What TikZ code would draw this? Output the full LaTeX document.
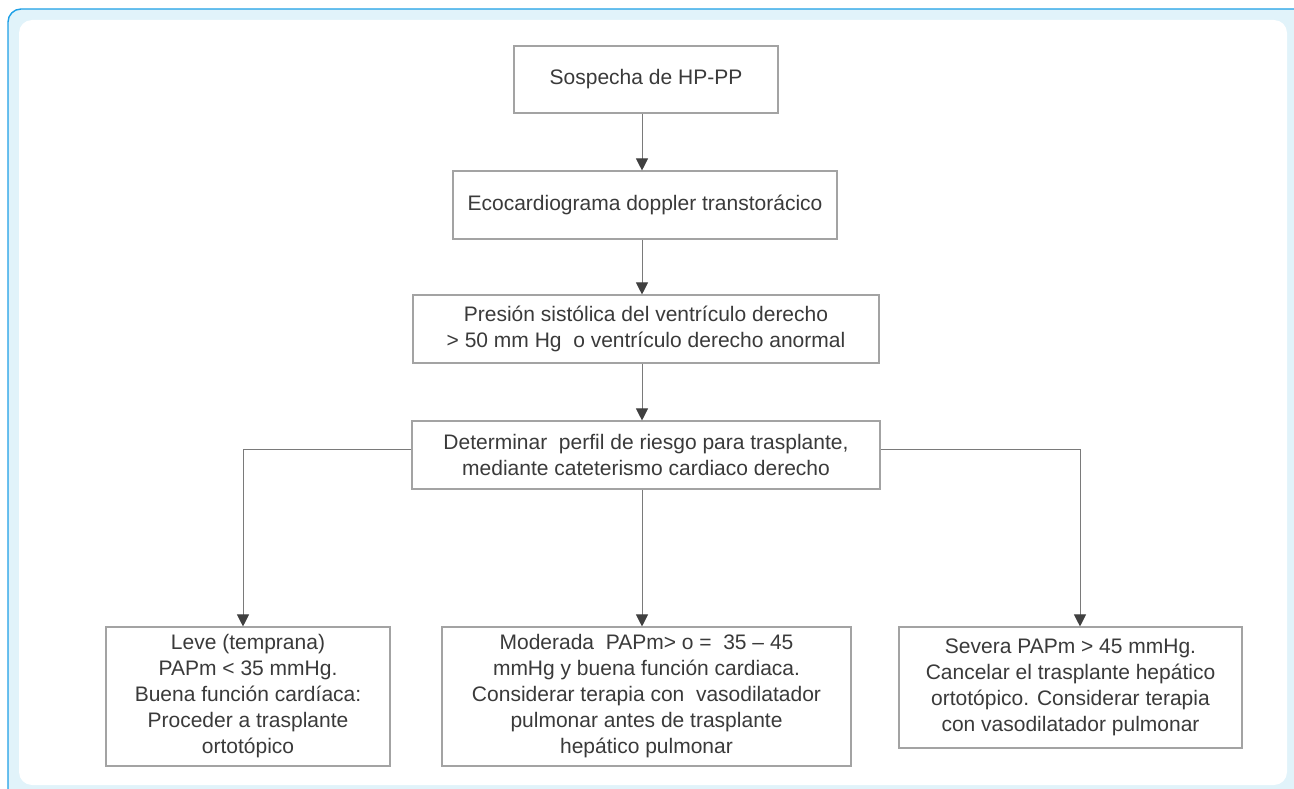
\documentclass[tikz,border=0pt]{standalone}
\usepackage{fontspec}
\setmainfont{Liberation Sans}
\usetikzlibrary{arrows.meta}
\definecolor{framefill}{HTML}{E1F3FA}
\definecolor{frameline}{HTML}{1EA0E6}
\definecolor{boxline}{HTML}{A3A3A3}
\definecolor{linegray}{HTML}{7A7A7A}
\definecolor{tipgray}{HTML}{404040}
\definecolor{txtgray}{HTML}{3A3A3A}
\tikzset{
  flowbox/.style={draw=boxline, line width=1.1pt, fill=white, inner sep=0pt,
    align=center, text=txtgray, font=\fontsize{21}{26}\selectfont},
  conn/.style={draw=linegray, line width=1pt},
  arr/.style={conn, -{Triangle[length=12pt,width=12pt,color=tipgray]}},
}
\begin{document}
\begin{tikzpicture}[x=1pt,y=-1pt]
  \useasboundingbox (0,0) rectangle (1294,789);
  % panel background
  \begin{scope}
    \clip (0,0) rectangle (1294,789);
    \draw[fill=framefill, draw=frameline, line width=1.4pt, rounded corners=13pt]
      (8,9) rectangle (1320,820);
    \fill[white, rounded corners=13pt] (19,20) rectangle (1287,785);
  \end{scope}

  % boxes
  \node[flowbox, minimum width=264pt, minimum height=67pt] (b1) at (646,79.5)
    {Sospecha de HP-PP};
  \node[flowbox, minimum width=384pt, minimum height=68pt] (b2) at (645,205)
    {Ecocardiograma doppler transtorácico};
  \node[flowbox, minimum width=466pt, minimum height=68pt] (b3) at (646,329)
    {Presión sistólica del ventrículo derecho\\ > 50 mm Hg\ \ o ventrículo derecho anormal};
  \node[flowbox, minimum width=468pt, minimum height=68pt] (b4) at (646,455)
    {Determinar\ \ perfil de riesgo para trasplante,\\ mediante cateterismo cardiaco derecho};
  \node[flowbox, minimum width=284pt, minimum height=139pt] (b5) at (248,696.5)
    {Leve (temprana)\\ PAPm < 35 mmHg.\\ Buena función cardíaca:\\ Proceder a trasplante\\ ortotópico};
  \node[flowbox, minimum width=409pt, minimum height=139pt] (b6) at (646.5,696.5)
    {Moderada\ \ PAPm> o =\ \ 35 – 45\\ mmHg y buena función cardiaca.\\ Considerar terapia con\ \ vasodilatador\\ pulmonar antes de trasplante\\ hepático pulmonar};
  \node[flowbox, minimum width=343pt, minimum height=121pt] (b7) at (1070.5,687.5)
    {Severa PAPm > 45 mmHg.\\ Cancelar el trasplante hepático\\ ortotópico. Considerar terapia\\ con vasodilatador pulmonar};

  % connector routing points
  \coordinate (colx) at (642,0);
  \coordinate (lb) at (243,449);
  \coordinate (rb) at (1080,449);

  % connectors
  \draw[arr] (b1.south -| colx) -- (b2.north -| colx);
  \draw[arr] (b2.south -| colx) -- (b3.north -| colx);
  \draw[arr] (b3.south -| colx) -- (b4.north -| colx);
  \draw[arr] (b4.south -| colx) -- (b6.north -| colx);
  \draw[arr] (b4.west |- lb) -- (lb) -- (b5.north -| lb);
  \draw[arr] (b4.east |- rb) -- (rb) -- (b7.north -| rb);
\end{tikzpicture}
\end{document}
